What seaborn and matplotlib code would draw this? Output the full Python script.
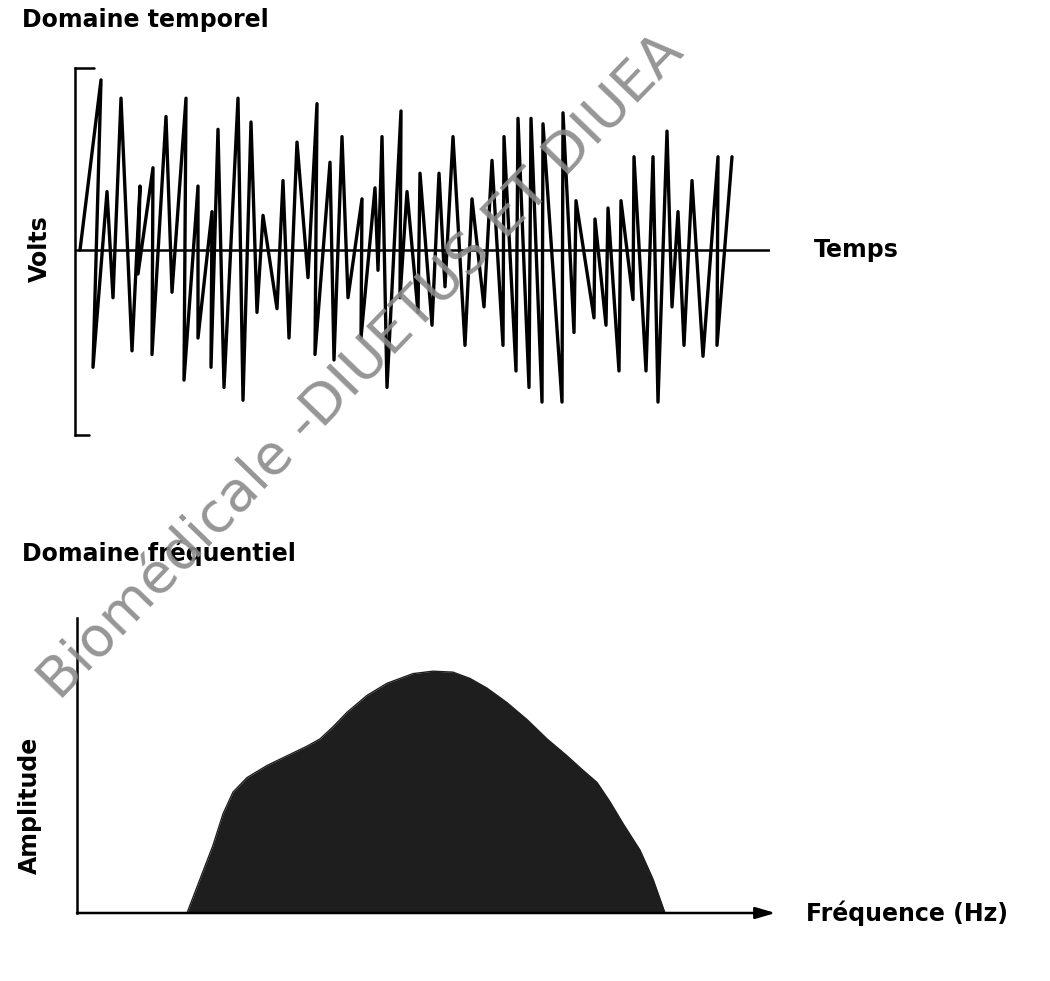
import numpy as np
import pandas as pd
import matplotlib
matplotlib.use("Agg")
import matplotlib.pyplot as plt
import seaborn as sns

# === Time domain: zigzag vertices (time in arbitrary units, volts normalised) ===
temps = [5, 26, 18, 32, 38, 46, 57, 65, 63, 78, 77, 91, 97, 111, 109, 123, 123,
         137, 136, 143, 149, 163, 168, 176, 182, 188, 202, 208, 214, 222, 233,
         242, 240, 255, 259, 267, 273, 287, 286, 300, 303, 307, 312, 326, 325,
         332, 343, 345, 357, 364, 370, 378, 390, 397, 409, 417, 428, 429, 441,
         443, 454, 456, 467, 468, 487, 488, 499, 501, 519, 520, 531, 533, 544,
         546, 558, 559, 571, 578, 583, 592, 597, 603, 609, 617, 628, 643, 642,
         657]
volts = [0.0, 0.93, -0.64, 0.32, -0.26, 0.83, -0.55, 0.35, -0.13, 0.45, -0.57,
         0.73, -0.23, 0.83, -0.71, 0.35, -0.48, 0.21, -0.64, 0.66, -0.75, 0.83,
         -0.82, 0.70, -0.34, 0.19, -0.32, 0.38, -0.48, 0.59, -0.15, 0.80, -0.57,
         0.48, -0.60, 0.62, -0.26, 0.28, -0.48, 0.34, -0.11, 0.62, -0.75, 0.76,
         -0.26, 0.32, -0.34, 0.42, -0.41, 0.42, -0.20, 0.62, -0.52, 0.28, -0.31,
         0.49, -0.52, 0.62, -0.66, 0.72, -0.75, 0.72, -0.83, 0.69, -0.83, 0.75,
         -0.45, 0.27, -0.37, 0.17, -0.41, 0.23, -0.66, 0.27, -0.27, 0.51, -0.66,
         0.51, -0.83, 0.65, -0.31, 0.21, -0.52, 0.38, -0.58, 0.51, -0.52, 0.51]

# === Frequency domain: spectrum envelope ===
freq = [110, 123, 136, 146, 156, 170, 190, 210, 230, 243, 256, 270, 290, 310,
        336, 356, 376, 393, 410, 430, 450, 470, 490, 506, 520, 533, 546, 563,
        576, 588]
amplitude = [0.0, 0.14, 0.28, 0.41, 0.50, 0.56, 0.61, 0.65, 0.69, 0.72, 0.77,
             0.83, 0.90, 0.95, 0.99, 1.0, 0.996, 0.97, 0.93, 0.87, 0.80, 0.72,
             0.65, 0.59, 0.54, 0.46, 0.37, 0.26, 0.14, 0.0]

time_df = pd.DataFrame({"Temps": temps, "Volts": volts})
freq_df = pd.DataFrame({"Fréquence": freq, "Amplitude": amplitude})

sns.set_style("white")
plt.rcParams["font.family"] = ["DejaVu Sans"]

W, H = 1050, 981
fig = plt.figure(figsize=(W / 100, H / 100), dpi=100)


def px_axes(x0, y0, x1, y1):
    # axes from pixel box (top-left origin)
    return fig.add_axes([x0 / W, 1 - y1 / H, (x1 - x0) / W, (y1 - y0) / H])


def px_text(x, y, s, **kw):
    fig.text(x / W, 1 - y / H, s, **kw)


# === Top panel ===
ax1 = px_axes(75, 68, 770, 435)
sns.lineplot(data=time_df, x="Temps", y="Volts", sort=False, estimator=None,
             color="black", linewidth=2.4, ax=ax1)
ax1.set_xlim(0, 695)
ax1.set_ylim(-1.01, 0.995)
ax1.axhline(0, color="black", linewidth=1.8)
ax1.axhline(0.995, xmin=0, xmax=0.027, color="black", linewidth=1.8, clip_on=False)
ax1.axhline(-1.01, xmin=0, xmax=0.02, color="black", linewidth=1.8, clip_on=False)
for s in ["top", "right", "bottom"]:
    ax1.spines[s].set_visible(False)
ax1.spines["left"].set_linewidth(1.8)
ax1.spines["left"].set_color("black")
ax1.set_xticks([])
ax1.set_yticks([])
ax1.set_xlabel("")
ax1.set_ylabel("")

# === Bottom panel ===
ax2 = px_axes(77, 618, 772, 913)
sns.lineplot(data=freq_df, x="Fréquence", y="Amplitude", estimator=None,
             color="#1e1e1e", linewidth=1, ax=ax2)
ax2.fill_between(freq, amplitude, 0, color="#1e1e1e", linewidth=0)
ax2.set_xlim(0, 695)
ax2.set_ylim(0, 1.22)
for s in ["top", "right", "bottom"]:
    ax2.spines[s].set_visible(False)
ax2.spines["left"].set_linewidth(1.8)
ax2.spines["left"].set_color("black")
ax2.annotate("", xy=(1.005, 0), xytext=(0, 0), xycoords="axes fraction",
             arrowprops=dict(arrowstyle="-|>,head_length=1.2,head_width=0.35",
                             color="black", linewidth=1.8, shrinkA=0, shrinkB=0))
ax2.set_xticks([])
ax2.set_yticks([])
ax2.set_xlabel("")
ax2.set_ylabel("")

# === Text labels ===
bold = dict(fontweight="bold", fontsize=17, color="black")
px_text(22, 20, "Domaine temporel", ha="left", va="center", **bold)
px_text(814, 250, "Temps", ha="left", va="center", **bold)
px_text(40, 249, "Volts", ha="center", va="center", rotation=90, **bold)
px_text(22, 553, "Domaine fréquentiel", ha="left", va="center", **bold)
px_text(30, 805, "Amplitude", ha="center", va="center", rotation=90, **bold)
px_text(806, 913, "Fréquence (Hz)", ha="left", va="center", **bold)

# watermark
px_text(362, 368, "Biomédicale -DIUETUS ET DIUEA", ha="center", va="center",
        rotation=46, fontsize=40, color="#8a8a8a", alpha=0.9)

fig.savefig("out.png", dpi=100)
